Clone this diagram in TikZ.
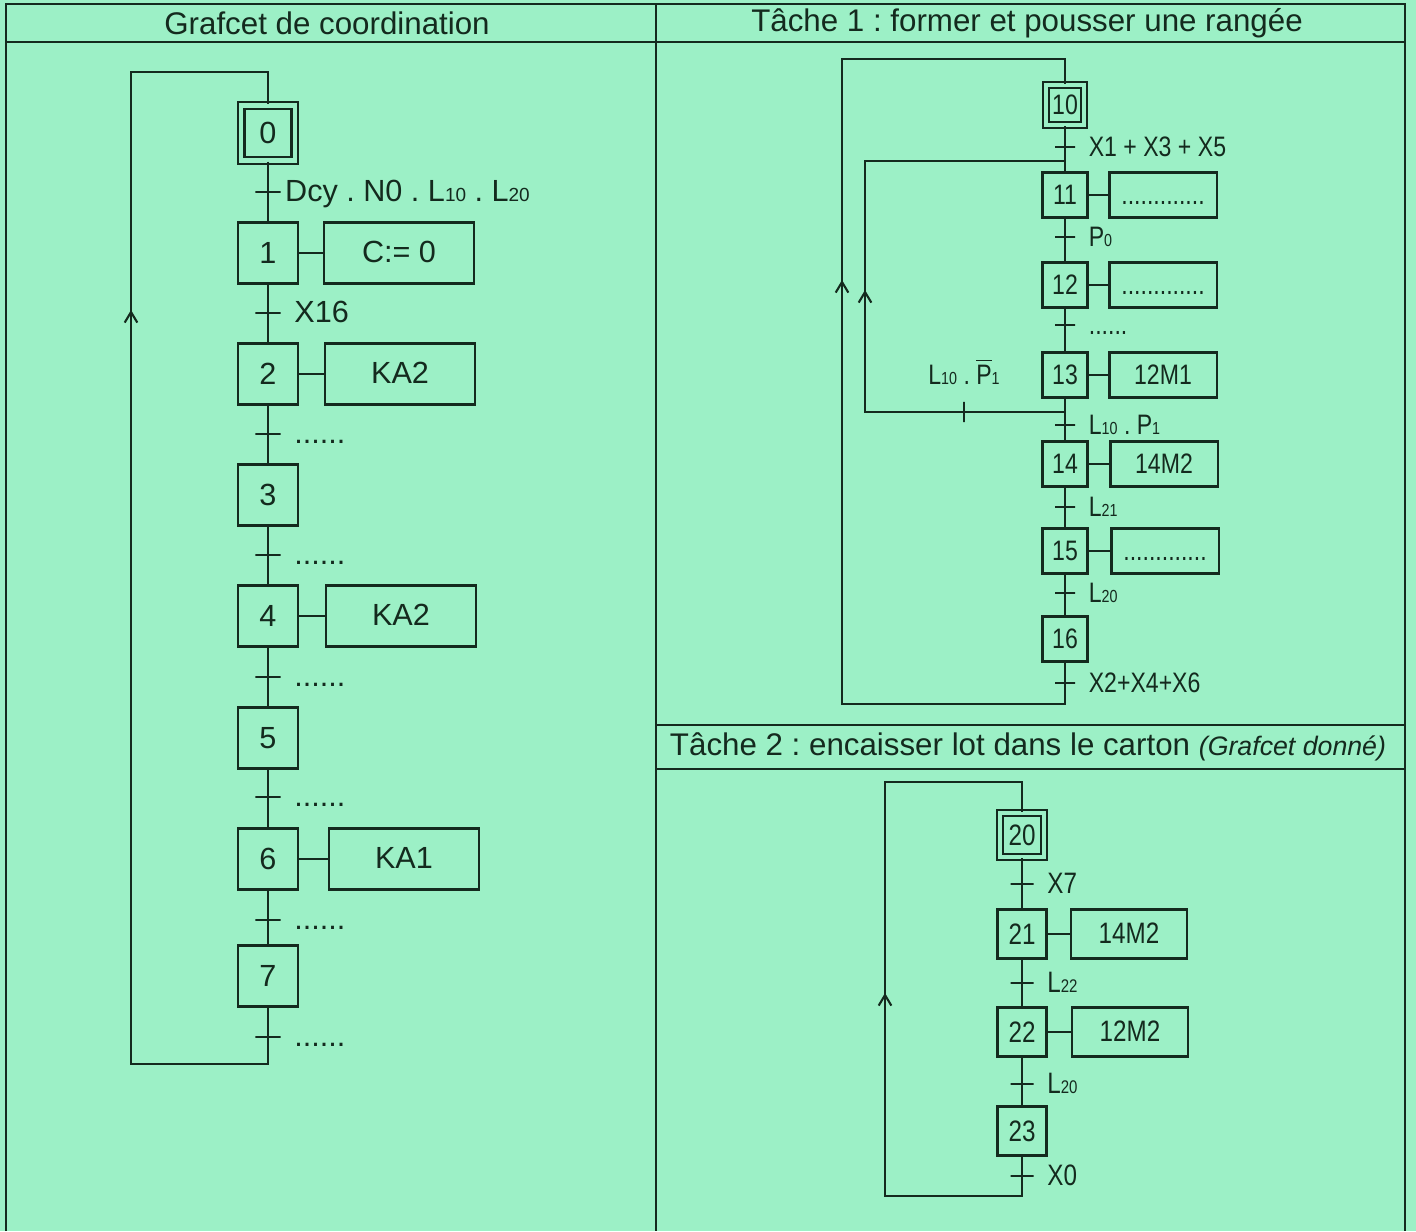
\documentclass[tikz,border=0pt]{standalone}
\usepackage{fontspec}
\setmainfont{Liberation Sans}
\newfontfamily\etroit[FakeStretch=0.82]{Liberation Sans}
\usetikzlibrary{arrows.meta}
\definecolor{fond}{RGB}{156,240,198}
\definecolor{trait}{RGB}{20,42,30}
\newcommand{\indice}[1]{\scalebox{0.62}{#1}}
\frenchspacing

\begin{document}
\begin{tikzpicture}[x=0.01cm,y=-0.01cm,line width=0.6pt,color=trait,
	etape/.style={ draw, inner sep=0pt, minimum width=0.6cm, minimum height=0.61cm },
	etapeinit/.style={ etape, double=fond, double distance=0.045cm, minimum width=0.535cm, minimum height=0.55cm },
	action/.style={ draw, inner sep=0pt, minimum width=1.5cm, minimum height=0.61cm, text height=6.3pt, text depth=1pt },
	trans/.style={ draw, inner sep=0pt, minimum width=0.25cm, minimum height=0pt },
	transv/.style={ draw, inner sep=0pt, minimum height=0.2cm, minimum width=0pt },
	fleche/.style={ -{Straight Barb[length=3pt,width=3.6pt]} },
	cadre/.style={ line width=0.75pt },
	entete/.style={ font=\fontsize{8.9}{10}\selectfont },
	every label/.style={ text height=6.3pt, text depth=1pt }
]

\useasboundingbox (0,0) rectangle (1416,1231);
\fill[fond] (0,0) rectangle (1416,1231);

\draw[cadre] (6,1231) -- (6,4) -- (1405,4) -- (1405,1231);
\draw[cadre] (6,42) -- (1405,42);
\draw[cadre] (656,4) -- (656,1231);
\draw[cadre] (656,725) -- (1405,725);
\draw[cadre] (656,769) -- (1405,769);
\node at (327,23) (titre0) [entete] {Grafcet de coordination};
\node at (1027,23) (titre1) [entete] {Tâche 1 : former et pousser une rangée};
\node at (1028,747) (titre2) [entete] {Tâche 2 : encaisser lot dans le carton {\itshape\fontsize{7.6}{9}\selectfont (Grafcet donné)}};

\begin{scope}[every node/.style={font=\fontsize{8.7}{10}\selectfont}]
\node at (268,133) (e0) [etapeinit] {0};
\node at (268,192) (t0) [trans,label={[label distance=-2.6pt]right:{Dcy . N0 . L\indice{10} . L\indice{20}}}] {};
\node at (268,253) (e1) [etape] {1};
\node at (399,253) (a1) [action] {C:= 0};
\node at (268,313) (t1) [trans,label=right:{X16}] {};
\node at (268,374) (e2) [etape] {2};
\node at (400,374) (a2) [action] {KA2};
\node at (268,434) (t2) [trans,label=right:{......}] {};
\node at (268,495) (e3) [etape] {3};
\node at (268,555) (t3) [trans,label=right:{......}] {};
\node at (268,616) (e4) [etape] {4};
\node at (401,616) (a4) [action] {KA2};
\node at (268,677) (t4) [trans,label=right:{......}] {};
\node at (268,738) (e5) [etape] {5};
\node at (268,797) (t5) [trans,label=right:{......}] {};
\node at (268,859) (e6) [etape] {6};
\node at (404,859) (a6) [action] {KA1\hspace{0.34cm}};
\node at (268,920) (t6) [trans,label=right:{......}] {};
\node at (268,976) (e7) [etape] {7};
\node at (268,1037) (t7) [trans,label=right:{......}] {};
\end{scope}
\coordinate (b0) at (131,1064);
\coordinate (h0) at (131,72);
\coordinate (f0) at (131,310);
\draw (e0) -- (t0) -- (e1) -- (t1) -- (e2) -- (t2) -- (e3) -- (t3) -- (e4) -- (t4) -- (e5) -- (t5) -- (e6) -- (t6) -- (e7) -- (t7);
\draw (e1) -- (a1);
\draw (e2) -- (a2);
\draw (e4) -- (a4);
\draw (e6) -- (a6);
\draw (t7) |- (b0) -- (h0) -| (e0);
\draw[fleche] (b0) -- (f0);

\begin{scope}[every node/.style={font=\etroit\fontsize{8}{9.5}\selectfont},
	etape/.append style={ minimum width=0.45cm, minimum height=0.45cm },
	action/.append style={ minimum width=1.07cm, minimum height=0.45cm },
	trans/.append style={ minimum width=0.2cm }]
\node at (1065,105) (e10) [etapeinit,minimum width=0.38cm,minimum height=0.40cm,double distance=0.04cm] {10};
\node at (1065,147) (t10) [trans,label=right:{X1 + X3 + X5}] {};
\node at (1065,195) (e11) [etape] {11};
\node at (1163,195) (a11) [action] {.............};
\node at (1065,237) (t11) [trans,label=right:{P\indice{0}}] {};
\node at (1065,285) (e12) [etape] {12};
\node at (1163,285) (a12) [action] {.............};
\node at (1065,325) (t12) [trans,label=right:{......}] {};
\node at (1065,375) (e13) [etape] {13};
\node at (1163,375) (a13) [action] {12M1};
\node at (1065,425) (t13) [trans,label=right:{L\indice{10} . P\indice{1}}] {};
\node at (1065,464) (e14) [etape] {14};
\node at (1164,464) (a14) [action] {14M2};
\node at (1065,507) (t14) [trans,label=right:{L\indice{21}}] {};
\node at (1065,551) (e15) [etape] {15};
\node at (1165,551) (a15) [action] {.............};
\node at (1065,593) (t15) [trans,label=right:{L\indice{20}}] {};
\node at (1065,639) (e16) [etape] {16};
\node at (1065,683) (t16) [trans,label=right:{X2+X4+X6}] {};
\node at (964,412) (tv13) [transv,label=above:{L\indice{10} . $\overline{\mbox{P}}$\indice{1}}] {};
\end{scope}
\coordinate (d13) at (1065,412);
\coordinate (c1) at (865,412);
\coordinate (c2) at (865,161);
\coordinate (c3) at (1065,161);
\coordinate (f3) at (865,290);
\coordinate (b1) at (842,704);
\coordinate (h1) at (842,59);
\coordinate (f1) at (842,280);
\draw (e10) -- (t10) -- (e11) -- (t11) -- (e12) -- (t12) -- (e13) -- (t13) -- (e14) -- (t14) -- (e15) -- (t15) -- (e16) -- (t16);
\draw (e11) -- (a11);
\draw (e12) -- (a12);
\draw (e13) -- (a13);
\draw (e14) -- (a14);
\draw (e15) -- (a15);
\draw (d13) -- (tv13) -- (c1) -- (c2) -- (c3);
\draw[fleche] (c1) -- (f3);
\draw (t16) |- (b1) -- (h1) -| (e10);
\draw[fleche] (b1) -- (f1);

\begin{scope}[every node/.style={font=\etroit\fontsize{8.4}{10}\selectfont},
	etape/.append style={ minimum width=0.49cm, minimum height=0.49cm },
	action/.append style={ minimum width=1.16cm, minimum height=0.49cm },
	trans/.append style={ minimum width=0.23cm }]
\node at (1022,835) (e20) [etapeinit,minimum width=0.44cm,minimum height=0.445cm,double distance=0.04cm] {20};
\node at (1022,884) (t20) [trans,label=right:{X7}] {};
\node at (1022,934) (e21) [etape] {21};
\node at (1129,934) (a21) [action] {14M2};
\node at (1022,983) (t21) [trans,label=right:{L\indice{22}}] {};
\node at (1022,1032) (e22) [etape] {22};
\node at (1130,1032) (a22) [action] {12M2};
\node at (1022,1084) (t22) [trans,label=right:{L\indice{20}}] {};
\node at (1022,1131) (e23) [etape] {23};
\node at (1022,1176) (t23) [trans,label=right:{X0}] {};
\end{scope}
\coordinate (b2) at (885,1196);
\coordinate (h2) at (885,782);
\coordinate (f2) at (885,993);
\draw (e20) -- (t20) -- (e21) -- (t21) -- (e22) -- (t22) -- (e23) -- (t23);
\draw (e21) -- (a21);
\draw (e22) -- (a22);
\draw (t23) |- (b2) -- (h2) -| (e20);
\draw[fleche] (b2) -- (f2);

\end{tikzpicture}
\end{document}
